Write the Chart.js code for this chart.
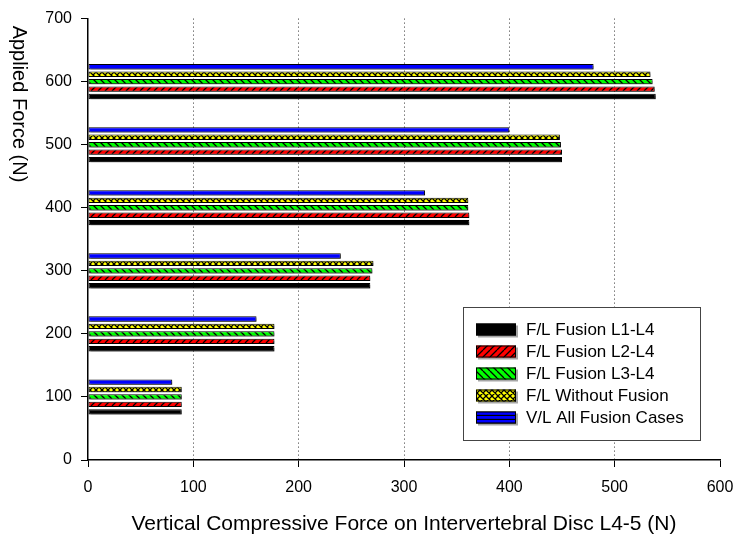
<!DOCTYPE html>
<html lang="en">
<head>
<meta charset="UTF-8">
<title>Applied Force vs Disc Force</title>
<script src="https://cdn.jsdelivr.net/npm/chart.js"></script>
<style>
  html, body { margin: 0; padding: 0; background: #fff; }
  .tela { width: 735px; height: 537px; position: relative; }
</style>
</head>
<body>
<div class="tela"><canvas id="grafico"></canvas></div>
<script>
// dados
const forcas = [100, 200, 300, 400, 500, 600];
const fusaoL1L4 = [89, 177, 268, 362, 450, 539];
const fusaoL2L4 = [89, 177, 268, 362, 450, 538];
const fusaoL3L4 = [89, 177, 270, 361, 449, 536];
const semFusao = [89, 177, 271, 361, 448, 534];
const vlTodas = [80, 160, 240, 320, 400, 480];
const nomes = ['F/L Fusion L1-L4', 'F/L Fusion L2-L4', 'F/L Fusion L3-L4', 'F/L Without Fusion', 'V/L All Fusion Cases'];
const ticksX = [0, 100, 200, 300, 400, 500, 600];
const ticksY = [0, 100, 200, 300, 400, 500, 600, 700];

const fonte = "'Liberation Sans', Arial, sans-serif";

function padrao(cor, tipo, s) {
    s = s || 7;
    const c = document.createElement('canvas');
    c.width = s; c.height = s;
    const g = c.getContext('2d');
    g.fillStyle = cor;
    g.fillRect(0, 0, s, s);
    g.strokeStyle = '#000';
    g.lineWidth = 1.3;
    g.beginPath();
    for (let k = -s; k <= s; k += s) {
        if (tipo === '/' || tipo === 'x') { g.moveTo(k, s); g.lineTo(k + s, 0); }
        if (tipo === '\\' || tipo === 'x') { g.moveTo(k, 0); g.lineTo(k + s, s); }
    }
    if (tipo === '-') { g.moveTo(0, s - 0.5); g.lineTo(s, s - 0.5); }
    g.stroke();
    return g.createPattern(c, 'repeat');
}

const cores = [
    '#000000',
    padrao('#ff0000', '/'),
    padrao('#00ff00', '\\'),
    padrao('#ffff00', 'x', 6),
    '#0000ff'
];
const coresLegenda = [
    '#000000',
    cores[1],
    cores[2],
    cores[3],
    padrao('#0000ff', '-', 4)
];
const valores = [fusaoL1L4, fusaoL2L4, fusaoL3L4, semFusao, vlTodas];

// ordem de cima para baixo dentro de cada grupo: azul ... preto
const datasets = [];
for (let i = valores.length - 1; i >= 0; i--) {
    datasets.push({
        label: nomes[i],
        data: forcas.map((f, j) => ({ x: valores[i][j], y: f })),
        backgroundColor: cores[i],
        borderColor: '#000',
        borderWidth: 1,
        borderSkipped: false
    });
}

const sombra = {
    id: 'sombra',
    beforeDatasetsDraw(chart) {
        const ctx = chart.ctx;
        ctx.save();
        ctx.shadowColor = 'rgba(0,0,0,0.35)';
        ctx.shadowOffsetX = 2;
        ctx.shadowOffsetY = 2;
        ctx.shadowBlur = 0;
    },
    afterDatasetsDraw(chart) {
        chart.ctx.restore();
    }
};

const legendaETitulos = {
    id: 'legendaETitulos',
    afterDraw(chart) {
        const ctx = chart.ctx;
        const area = chart.chartArea;
        ctx.save();
        // titulos dos eixos
        ctx.fillStyle = '#000';
        ctx.textAlign = 'center';
        ctx.textBaseline = 'middle';
        ctx.font = '21px ' + fonte;
        ctx.fillText('Vertical Compressive Force on Intervertebral Disc L4-5 (N)', (area.left + area.right) / 2, 524);
        ctx.save();
        ctx.font = '20px ' + fonte;
        ctx.translate(19, 104);
        ctx.rotate(Math.PI / 2);
        ctx.fillText('Applied Force (N)', 0, 0);
        ctx.restore();

        // legenda
        const w = 237, h = 133;
        const x0 = area.right - 20 - w;
        const y0 = area.bottom - 20 - h;
        ctx.fillStyle = '#fff';
        ctx.fillRect(x0, y0, w, h);
        ctx.strokeStyle = '#444';
        ctx.lineWidth = 1;
        ctx.strokeRect(x0 + 0.5, y0 + 0.5, w, h);
        ctx.font = '17px ' + fonte;
        ctx.textAlign = 'left';
        for (let i = 0; i < nomes.length; i++) {
            const cy = y0 + 22.5 + i * 22;
            ctx.save();
            ctx.shadowColor = 'rgba(0,0,0,0.35)';
            ctx.shadowOffsetX = 2;
            ctx.shadowOffsetY = 2;
            ctx.fillStyle = coresLegenda[i];
            ctx.fillRect(x0 + 13, cy - 6, 40, 12);
            ctx.restore();
            ctx.strokeStyle = '#000';
            ctx.strokeRect(x0 + 13.5, cy - 5.5, 39, 11);
            ctx.fillStyle = '#000';
            ctx.fillText(nomes[i], x0 + 63, cy + 1);
        }
        ctx.restore();
    }
};

new Chart(document.getElementById('grafico'), {
    type: 'bar',
    data: { datasets: datasets },
    options: {
        indexAxis: 'y',
        responsive: true,
        maintainAspectRatio: false,
        animation: false,
        categoryPercentage: 0.59,
        barPercentage: 0.72,
        layout: { padding: { top: 17, right: 15, left: 0, bottom: 0 } },
        plugins: {
            legend: { display: false },
            tooltip: { enabled: false }
        },
        scales: {
            x: {
                type: 'linear',
                min: 0,
                max: 600,
                afterBuildTicks(scale) { scale.ticks = ticksX.map(v => ({ value: v })); },
                afterFit(scale) {
                    scale.height = 77;
                    scale.paddingRight = 0;
                    scale.paddingLeft = 0;
                },
                ticks: { color: '#000', font: { size: 16, family: fonte }, padding: 11, maxRotation: 0 },
                grid: {
                    color: c => (c.tick && (c.tick.value === 0 || c.tick.value === 600)) ? 'rgba(0,0,0,0)' : '#333',
                    lineWidth: 1,
                    tickColor: '#000',
                    tickLength: 7,
                    tickBorderDash: []
                },
                border: { color: '#000', width: 1.5, dash: [1, 3] }
            },
            y: {
                type: 'linear',
                min: 0,
                max: 700,
                offset: false,
                afterBuildTicks(scale) { scale.ticks = ticksY.map(v => ({ value: v })); },
                afterFit(scale) { scale.width = 88; },
                ticks: { color: '#000', font: { size: 16, family: fonte }, padding: 9 },
                grid: {
                    offset: false,
                    drawOnChartArea: false,
                    tickColor: '#000',
                    tickLength: 7
                },
                border: { color: '#000', width: 1.5 }
            }
        }
    },
    plugins: [sombra, legendaETitulos]
});
</script>
</body>
</html>
